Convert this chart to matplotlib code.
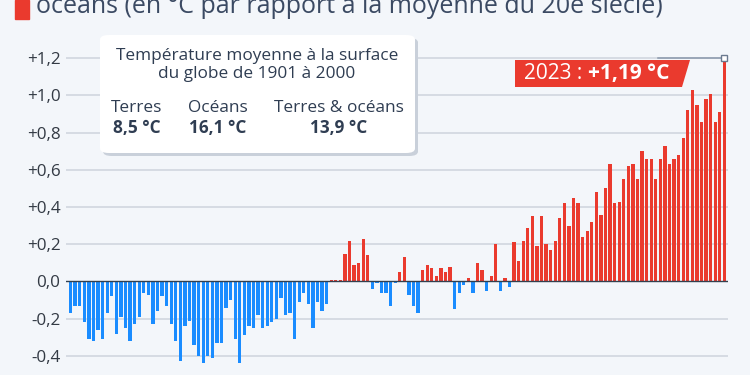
import numpy as np
import matplotlib
matplotlib.use('Agg')
import matplotlib.pyplot as plt
from matplotlib.patches import FancyBboxPatch, Polygon, Rectangle

plt.rcParams['font.family'] = ['Open Sans', 'DejaVu Sans']

# ---- data: anomalies vs 20th century average (°C), 1880-2023 ----
years = np.arange(1880, 2024)
anomaly = [
    -0.17, -0.13, -0.13, -0.22, -0.31, -0.32, -0.26, -0.31, -0.17, -0.08,
    -0.28, -0.19, -0.25, -0.32, -0.23, -0.19, -0.06, -0.07, -0.23, -0.16,
    -0.08, -0.13, -0.23, -0.32, -0.43, -0.24, -0.21, -0.34, -0.40, -0.44,
    -0.40, -0.41, -0.33, -0.33, -0.14, -0.10, -0.31, -0.44, -0.29, -0.24,
    -0.25, -0.18, -0.25, -0.24, -0.22, -0.20, -0.09, -0.18, -0.17, -0.31,
    -0.11, -0.06, -0.12, -0.25, -0.11, -0.16, -0.12, 0.01, 0.01, 0.01,
    0.15, 0.22, 0.09, 0.10, 0.23, 0.14, -0.04, -0.01, -0.06, -0.06,
    -0.13, -0.01, 0.05, 0.13, -0.07, -0.13, -0.17, 0.06, 0.09, 0.07,
    0.03, 0.07, 0.05, 0.08, -0.15, -0.06, -0.02, 0.02, -0.06, 0.10,
    0.06, -0.05, 0.03, 0.20, -0.05, 0.02, -0.03, 0.21, 0.11, 0.22,
    0.29, 0.35, 0.19, 0.35, 0.20, 0.17, 0.22, 0.34, 0.42, 0.30,
    0.45, 0.42, 0.24, 0.27, 0.32, 0.48, 0.36, 0.50, 0.63, 0.42,
    0.43, 0.55, 0.62, 0.63, 0.55, 0.70, 0.66, 0.66, 0.55, 0.66,
    0.73, 0.63, 0.66, 0.68, 0.77, 0.92, 1.03, 0.95, 0.86, 0.98,
    1.01, 0.86, 0.91, 1.19,
]
anomaly = np.array(anomaly)
yticks = [-0.4, -0.2, 0.0, 0.2, 0.4, 0.6, 0.8, 1.0, 1.2]
ytick_labels = ['-0,4', '-0,2', '0,0', '+0,2', '+0,4', '+0,6', '+0,8', '+1,0', '+1,2']

box_title = 'Température moyenne à la surface\ndu globe de 1901 à 2000'
box_cols = ['Terres', 'Océans', 'Terres & océans']
box_vals = ['8,5 °C', '16,1 °C', '13,9 °C']

BG = '#f3f6fa'
BLUE = '#1a8cff'
RED = '#ea3a2e'
GRID = '#d3d9e1'
TXT = '#2f3d52'

W, H = 750, 375
fig = plt.figure(figsize=(7.5, 3.75), dpi=100, facecolor=BG)


def fx(px):
    return px / W


def fy(py):
    return 1 - py / H


ax = fig.add_axes([fx(66), 0, 662 / W, 1])
ax.set_facecolor(BG)
ax.set_xlim(1879.0, 2023.8)
ax.set_ylim(-0.5027, 1.5134)
for s in ax.spines.values():
    s.set_visible(False)

for t in yticks:
    if t != 0:
        ax.axhline(t, color=GRID, lw=1.3, zorder=0)

colors = [RED if v > 0 else BLUE for v in anomaly]
ax.bar(years, anomaly, width=0.72, color=colors, zorder=2)
ax.axhline(0, color='#33404f', lw=1.0, zorder=3)

ax.set_xticks([])
ax.set_yticks(yticks)
ax.set_yticklabels(ytick_labels)
ax.tick_params(axis='y', length=0, pad=4, labelsize=12.3, labelcolor='#333a44')

# marker + leader line for last value
ax.plot([2008.5, years[-1]], [1.2, 1.2], color='#8a98ab', lw=1.1, zorder=3)
ax.plot(years[-1], anomaly[-1] + 0.01, marker='s', ms=4, mfc='white',
        mec='#6b7a8f', mew=1, zorder=5)

# title (cropped at top)
fig.patches.append(Rectangle((fx(15), fy(19)), fx(14), 19 / H, color=RED,
                             transform=fig.transFigure))
fig.text(fx(36), fy(13), 'océans (en °C par rapport à la moyenne du 20e siècle)',
         fontsize=18, color='#3b4a63', va='baseline', ha='left')

# info box
shadow = FancyBboxPatch((fx(103), fy(156)), fx(315), 118 / H,
                        boxstyle='round,pad=0,rounding_size=0.012',
                        transform=fig.transFigure, fc='#c9d0da', ec='none')
box = FancyBboxPatch((fx(100), fy(153)), fx(315), 118 / H,
                     boxstyle='round,pad=0,rounding_size=0.012',
                     transform=fig.transFigure, fc='white', ec='none')
fig.patches.append(shadow)
fig.patches.append(box)
fig.text(fx(257), fy(65), box_title, ha='center', va='center', fontsize=12.4,
         color=TXT, linespacing=1.2)
col_x = [137, 218, 339]
for cx, name, val in zip(col_x, box_cols, box_vals):
    fig.text(fx(cx), fy(108), name, ha='center', va='center', fontsize=12.4,
             color=TXT)
    fig.text(fx(cx), fy(128), val, ha='center', va='center', fontsize=12.4,
             color=TXT, fontweight='bold')

# value label flag
flag = Polygon([(fx(515), fy(60)), (fx(690), fy(60)), (fx(682), fy(87)),
                (fx(515), fy(87))], closed=True, fc=RED, ec='none',
               transform=fig.transFigure)
fig.patches.append(flag)
t1 = fig.text(fx(524), fy(73.5), '2023 : ', ha='left', va='center',
              fontsize=15, color='white')
fig.canvas.draw()
bb = t1.get_window_extent()
fig.text(bb.x1 / W, fy(73.5), '+1,19 °C', ha='left', va='center',
         fontsize=15, color='white', fontweight='bold')

fig.savefig('out.png', dpi=100, facecolor=BG)
